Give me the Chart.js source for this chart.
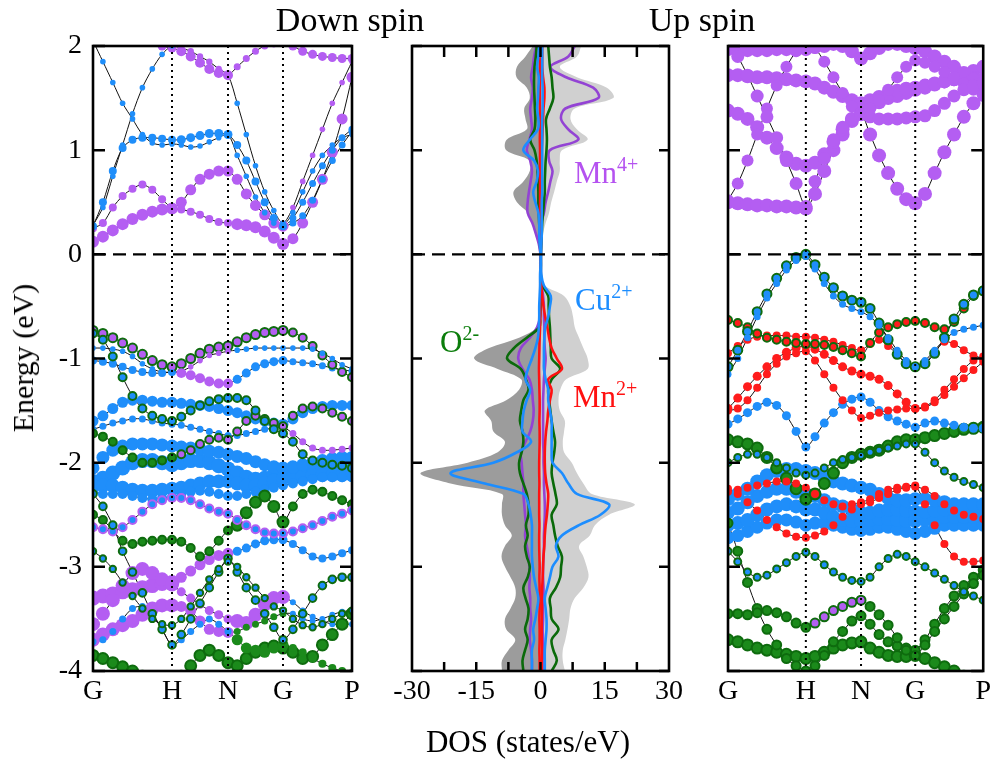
<!DOCTYPE html>
<html><head><meta charset="utf-8">
<script src="https://cdn.jsdelivr.net/npm/chart.js@4.4.1/dist/chart.umd.min.js"></script>
<style>
html,body{margin:0;padding:0;background:#fff;}
body{width:995px;height:762px;position:relative;overflow:hidden;font-family:"Liberation Serif","Times New Roman",serif;}
canvas{position:absolute;top:0;}
.t{position:absolute;white-space:nowrap;color:#000;line-height:1;z-index:5;}
.lab{position:absolute;white-space:nowrap;font-size:31px;line-height:31px;z-index:5;}
.lab sup{font-size:20px;position:relative;top:-12px;vertical-align:baseline;line-height:0;}
</style></head><body>
<canvas id="c1" width="372" height="762" style="left:0px"></canvas>
<canvas id="c2" width="310" height="762" style="left:380px"></canvas>
<canvas id="c3" width="305" height="762" style="left:690px"></canvas>
<div class="t" style="font-size:34px;left:350px;top:3px;transform:translateX(-50%)">Down spin</div>
<div class="t" style="font-size:34px;left:702px;top:3px;transform:translateX(-50%)">Up spin</div>
<div class="t" style="font-size:30px;left:23px;top:358px;transform:translate(-50%,-50%) rotate(-90deg)">Energy (eV)</div>
<div class="t" style="font-size:31px;left:528px;top:726px;transform:translateX(-50%)">DOS (states/eV)</div>
<div class="lab" style="left:574px;top:157px;color:#b552f0">Mn<sup>4+</sup></div>
<div class="lab" style="left:575px;top:284px;color:#1c8dff">Cu<sup>2+</sup></div>
<div class="lab" style="left:440px;top:326px;color:#0b7d0b">O<sup>2-</sup></div>
<div class="lab" style="left:573px;top:381px;color:#ff1111">Mn<sup>2+</sup></div>
<script>
// ---------- k-path (band panels) ----------
const kNodes = [0, 0.79, 1.35, 1.90, 2.59];
const kLabels = ['G', 'H', 'N', 'G', 'P'];
const kGrid = [0,0.099,0.198,0.296,0.395,0.494,0.593,0.691,0.79, 0.883,0.977,1.07,1.163,1.257,1.35, 1.442,1.533,1.625,1.717,1.808,1.90, 1.999,2.097,2.196,2.294,2.393,2.491,2.59];
const eTicks = [-4, -3, -2, -1, 0, 1, 2];

// ---------- Down spin bands (eV) ----------
const dnC1 = [0.12,0.17,0.23,0.29,0.34,0.38,0.41,0.43,0.44, 0.43,0.41,0.38,0.34,0.31,0.30, 0.29,0.28,0.26,0.22,0.16,0.10, 0.15,0.30,0.50,0.72,0.98,1.30,1.70];
const dnC2 = [0.25,0.30,0.45,0.56,0.63,0.67,0.62,0.53,0.45, 0.50,0.62,0.72,0.77,0.80,0.80, 0.72,0.58,0.47,0.38,0.30,0.27, 0.30,0.37,0.52,0.72,0.90,1.05,1.18];
const dnC3 = [0.27,0.50,0.80,1.02,1.10,1.12,1.12,1.11,1.10, 1.10,1.12,1.14,1.16,1.16,1.15, 1.05,0.90,0.70,0.50,0.35,0.27, 0.35,0.50,0.68,0.85,1.00,1.12,1.20];
const dnC4 = [2.05,1.85,1.65,1.45,1.30,1.15,1.07,1.05,1.06, 1.05,1.03,1.04,1.08,1.12,1.15, 0.95,0.75,0.55,0.40,0.30,0.28, 0.40,0.60,0.80,0.95,1.05,1.12,1.15];
const dnC5 = [0.28,0.45,0.75,1.05,1.35,1.60,1.78,1.92,2.00, 1.98,1.95,1.90,1.85,1.78,1.72, 1.45,1.15,0.85,0.60,0.42,0.30, 0.45,0.70,0.95,1.20,1.45,1.65,1.85];
const dnC6 = [2.60,2.50,2.40,2.30,2.20,2.10,2.05,2.00,1.98, 1.95,1.90,1.84,1.78,1.74,1.72, 1.80,1.88,1.95,2.00,2.02,2.05, 2.00,1.95,1.92,1.90,1.89,1.88,1.88];
const dnV1 = [-0.73,-0.76,-0.80,-0.85,-0.90,-0.96,-1.02,-1.06,-1.08, -1.05,-1.00,-0.95,-0.91,-0.89,-0.88, -0.84,-0.80,-0.77,-0.75,-0.74,-0.73, -0.75,-0.80,-0.88,-0.97,-1.06,-1.13,-1.18];
const dnV2 = [-0.90,-0.90,-0.91,-0.93,-0.98,-1.05,-1.10,-1.13,-1.13, -1.12,-1.08,-1.02,-0.97,-0.95,-0.93, -0.92,-0.91,-0.90,-0.90,-0.90,-0.90, -0.90,-0.90,-0.91,-0.95,-1.00,-1.06,-1.10];
const dnV3 = [-1.02,-1.03,-1.05,-1.08,-1.11,-1.13,-1.14,-1.14,-1.13, -1.14,-1.16,-1.19,-1.22,-1.24,-1.24, -1.20,-1.14,-1.08,-1.05,-1.03,-1.02, -1.03,-1.04,-1.05,-1.07,-1.09,-1.11,-1.12];
const dnV4 = [-0.76,-0.82,-0.98,-1.18,-1.36,-1.48,-1.55,-1.58,-1.60, -1.56,-1.50,-1.45,-1.41,-1.39,-1.38, -1.38,-1.40,-1.50,-1.60,-1.68,-1.72, -1.80,-1.92,-1.98,-2.00,-2.02,-2.03,-2.05];
const dnV5 = [-1.60,-1.55,-1.48,-1.42,-1.40,-1.40,-1.41,-1.42,-1.42, -1.43,-1.44,-1.45,-1.46,-1.48,-1.50, -1.52,-1.55,-1.58,-1.60,-1.62,-1.63, -1.58,-1.52,-1.48,-1.46,-1.45,-1.45,-1.45];
const dnV6 = [-1.68,-1.65,-1.62,-1.60,-1.58,-1.58,-1.60,-1.62,-1.63, -1.64,-1.66,-1.68,-1.70,-1.72,-1.74, -1.74,-1.72,-1.70,-1.68,-1.67,-1.66, -1.72,-1.80,-1.86,-1.88,-1.88,-1.87,-1.86];
const dnV7 = [-1.72,-1.75,-1.80,-1.88,-1.95,-2.00,-2.00,-1.98,-1.95, -1.92,-1.88,-1.82,-1.78,-1.76,-1.78, -1.70,-1.60,-1.55,-1.58,-1.62,-1.65, -1.55,-1.48,-1.46,-1.48,-1.52,-1.56,-1.60];
const dnB1 = [-2.05,-1.95,-1.88,-1.84,-1.82,-1.82,-1.82,-1.83,-1.84, -1.85,-1.86,-1.87,-1.89,-1.90,-1.92, -1.94,-1.96,-1.99,-2.02,-2.04,-2.05, -2.04,-2.02,-2.00,-1.98,-1.96,-1.95,-1.95];
const dnB2 = [-2.18,-2.15,-2.10,-2.05,-2.00,-1.98,-1.98,-2.00,-2.02, -2.00,-1.98,-1.98,-2.00,-2.03,-2.06, -2.10,-2.14,-2.16,-2.15,-2.12,-2.10, -2.10,-2.08,-2.06,-2.05,-2.04,-2.03,-2.02];
const dnB3 = [-2.22,-2.22,-2.22,-2.24,-2.26,-2.27,-2.27,-2.26,-2.25, -2.24,-2.22,-2.20,-2.18,-2.18,-2.18, -2.20,-2.22,-2.22,-2.20,-2.17,-2.15, -2.14,-2.13,-2.12,-2.12,-2.12,-2.12,-2.12];
const dnB4 = [-2.28,-2.30,-2.30,-2.30,-2.32,-2.34,-2.35,-2.34,-2.33, -2.30,-2.28,-2.27,-2.28,-2.30,-2.32, -2.32,-2.30,-2.28,-2.26,-2.24,-2.22, -2.20,-2.18,-2.16,-2.14,-2.14,-2.14,-2.14];
const dnL1 = [-2.62,-2.64,-2.66,-2.62,-2.55,-2.47,-2.40,-2.36,-2.34, -2.34,-2.36,-2.40,-2.44,-2.47,-2.49, -2.55,-2.60,-2.64,-2.67,-2.68,-2.68, -2.66,-2.63,-2.60,-2.56,-2.52,-2.49,-2.46];
const dnL2 = [-2.50,-2.55,-2.65,-2.75,-2.78,-2.76,-2.75,-2.74,-2.74, -2.76,-2.82,-2.90,-2.85,-2.75,-2.65, -2.60,-2.48,-2.38,-2.32,-2.42,-2.57, -2.42,-2.30,-2.26,-2.28,-2.32,-2.36,-2.40];
const dnL3 = [-3.30,-3.28,-3.26,-3.24,-3.22,-3.20,-3.18,-3.16,-3.15, -3.10,-3.04,-2.98,-2.93,-2.89,-2.87, -2.85,-2.82,-2.78,-2.75,-2.74,-2.74, -2.78,-2.84,-2.90,-2.92,-2.90,-2.87,-2.84];
const dnL4 = [-3.55,-3.45,-3.32,-3.18,-3.06,-3.02,-3.06,-3.12,-3.17, -3.24,-3.30,-3.36,-3.42,-3.46,-3.50, -3.52,-3.54,-3.46,-3.36,-3.30,-3.29, -3.34,-3.42,-3.48,-3.52,-3.55,-3.55,-3.55];
const dnL5 = [-3.70,-3.65,-3.60,-3.56,-3.52,-3.46,-3.40,-3.37,-3.37, -3.38,-3.42,-3.52,-3.60,-3.62,-3.63, -3.62,-3.58,-3.55,-3.52,-3.48,-3.45, -3.45,-3.50,-3.52,-3.50,-3.46,-3.43,-3.42];
const dnL6 = [-2.30,-2.42,-2.60,-2.85,-3.05,-3.25,-3.45,-3.60,-3.75, -3.65,-3.50,-3.35,-3.20,-3.05,-2.92, -3.05,-3.20,-3.32,-3.45,-3.58,-3.70, -3.60,-3.45,-3.30,-3.18,-3.12,-3.10,-3.10];
const dnL7 = [-3.72,-3.70,-3.62,-3.50,-3.40,-3.38,-3.45,-3.60,-3.75, -3.70,-3.62,-3.55,-3.50,-3.55,-3.62, -3.70,-3.78,-3.80,-3.82,-3.78,-3.75, -3.78,-3.82,-3.88,-3.93,-3.97,-4.00,-4.02];
const dnL8 = [-3.85,-3.88,-3.92,-3.96,-4.00,-4.05,-4.10,-4.10,-4.10, -4.05,-3.95,-3.85,-3.80,-3.85,-3.92, -3.95,-3.88,-3.82,-3.78,-3.76,-3.78, -3.82,-3.88,-3.86,-3.75,-3.65,-3.55,-3.45];
const dnL9 = [-2.85,-2.92,-3.02,-3.15,-3.28,-3.40,-3.50,-3.55,-3.56, -3.50,-3.38,-3.25,-3.12,-3.02,-2.95, -3.00,-3.10,-3.20,-3.30,-3.38,-3.42, -3.50,-3.56,-3.58,-3.55,-3.50,-3.45,-3.42];

// ---------- Up spin bands (eV) ----------
const upC1 = [0.50,0.49,0.48,0.47,0.47,0.46,0.46,0.45,0.44, 0.58,0.80,1.00,1.15,1.28,1.35, 1.15,0.95,0.78,0.63,0.53,0.49, 0.58,0.78,0.98,1.15,1.32,1.45,1.55];
const upC2 = [1.38,1.35,1.30,1.22,1.12,1.02,0.93,0.87,0.85, 0.88,0.96,1.08,1.20,1.30,1.37, 1.42,1.46,1.50,1.52,1.55,1.58, 1.60,1.63,1.66,1.68,1.72,1.76,1.80];
const upC3 = [1.72,1.72,1.71,1.70,1.70,1.69,1.68,1.67,1.66, 1.64,1.60,1.56,1.52,1.48,1.45, 1.48,1.51,1.54,1.57,1.59,1.60, 1.62,1.64,1.66,1.68,1.69,1.69,1.68];
const upC4 = [1.97,1.96,1.96,1.96,1.96,1.97,1.97,1.97,1.97, 1.99,2.00,2.02,2.00,1.95,1.88, 1.93,1.98,2.02,2.02,2.00,1.98, 1.95,1.90,1.85,1.80,1.74,1.68,1.62];
const upC5 = [2.05,1.90,1.72,1.52,1.32,1.12,0.90,0.68,0.46, 0.70,0.92,1.10,1.22,1.30,1.34, 1.32,1.30,1.30,1.30,1.31,1.32, 1.33,1.38,1.45,1.52,1.58,1.62,1.65];
const upC6 = [0.52,0.68,0.90,1.15,1.40,1.62,1.80,1.95,2.05, 1.98,1.85,1.70,1.55,1.42,1.36, 1.40,1.48,1.58,1.70,1.80,1.86, 1.84,1.80,1.75,1.70,1.64,1.58,1.52];
const upV1 = [-1.08,-0.92,-0.74,-0.55,-0.38,-0.23,-0.11,-0.03,0.00, -0.10,-0.22,-0.32,-0.40,-0.44,-0.46, -0.52,-0.66,-0.82,-0.96,-1.05,-1.08, -1.05,-0.95,-0.80,-0.62,-0.48,-0.39,-0.35];
const upV2 = [-1.15,-1.00,-0.80,-0.60,-0.42,-0.28,-0.15,-0.06,-0.02, -0.14,-0.28,-0.40,-0.48,-0.52,-0.55, -0.60,-0.68,-0.80,-0.92,-1.02,-1.08, -1.02,-0.92,-0.82,-0.75,-0.72,-0.70,-0.68];
const upV3 = [-0.63,-0.66,-0.70,-0.76,-0.80,-0.82,-0.84,-0.85,-0.86, -0.86,-0.87,-0.89,-0.92,-0.95,-0.98, -0.85,-0.75,-0.70,-0.67,-0.65,-0.64, -0.66,-0.70,-0.72,-0.65,-0.52,-0.40,-0.35];
const upV4 = [-0.95,-0.88,-0.82,-0.79,-0.78,-0.78,-0.78,-0.79,-0.79, -0.80,-0.82,-0.84,-0.87,-0.90,-0.92, -0.86,-0.82,-0.88,-0.96,-1.04,-1.08, -1.04,-0.94,-0.84,-0.86,-0.92,-0.97,-1.00];
const upV5 = [-1.48,-1.38,-1.27,-1.17,-1.08,-1.00,-0.94,-0.90,-0.88, -0.91,-0.96,-1.02,-1.08,-1.12,-1.15, -1.17,-1.20,-1.26,-1.34,-1.42,-1.48, -1.47,-1.42,-1.35,-1.27,-1.19,-1.11,-1.03];
const upV6 = [-1.50,-1.48,-1.40,-1.28,-1.15,-1.05,-0.98,-0.95,-0.93, -1.02,-1.15,-1.28,-1.40,-1.50,-1.57, -1.55,-1.52,-1.50,-1.49,-1.48,-1.48, -1.46,-1.40,-1.30,-1.20,-1.10,-1.02,-0.98];
const upV7 = [-1.63,-1.58,-1.52,-1.46,-1.42,-1.45,-1.55,-1.70,-1.85, -1.75,-1.62,-1.52,-1.44,-1.39,-1.37, -1.42,-1.50,-1.56,-1.60,-1.63,-1.66, -1.62,-1.60,-1.62,-1.64,-1.66,-1.67,-1.67];
const upV8 = [-1.78,-1.80,-1.82,-1.86,-1.95,-2.05,-2.15,-2.25,-2.35, -2.30,-2.20,-2.10,-2.00,-1.95,-1.92, -1.90,-1.88,-1.84,-1.80,-1.78,-1.78, -1.76,-1.74,-1.72,-1.70,-1.68,-1.67,-1.66];
const upV9 = [-2.00,-1.95,-1.92,-1.92,-1.95,-2.00,-2.05,-2.10,-2.12, -2.10,-2.05,-2.00,-1.97,-1.95,-1.93, -1.90,-1.88,-1.86,-1.84,-1.82,-1.82, -1.90,-2.00,-2.08,-2.14,-2.18,-2.21,-2.24];
const upB1 = [-2.35,-2.30,-2.25,-2.18,-2.12,-2.08,-2.06,-2.06,-2.08, -2.10,-2.14,-2.18,-2.20,-2.22,-2.24, -2.26,-2.30,-2.34,-2.36,-2.36,-2.35, -2.35,-2.36,-2.38,-2.40,-2.40,-2.40,-2.40];
const upB2 = [-2.48,-2.44,-2.38,-2.32,-2.28,-2.25,-2.25,-2.28,-2.30, -2.32,-2.36,-2.40,-2.42,-2.45,-2.48, -2.48,-2.46,-2.45,-2.45,-2.46,-2.47, -2.47,-2.46,-2.45,-2.45,-2.44,-2.44,-2.44];
const upB3 = [-2.60,-2.58,-2.55,-2.50,-2.45,-2.42,-2.40,-2.42,-2.45, -2.45,-2.48,-2.52,-2.55,-2.56,-2.56, -2.55,-2.54,-2.54,-2.55,-2.56,-2.56, -2.55,-2.54,-2.52,-2.52,-2.52,-2.52,-2.52];
const upB4 = [-2.72,-2.70,-2.66,-2.62,-2.58,-2.55,-2.55,-2.57,-2.60, -2.58,-2.58,-2.60,-2.62,-2.64,-2.65, -2.64,-2.62,-2.62,-2.64,-2.66,-2.68, -2.66,-2.63,-2.60,-2.60,-2.60,-2.60,-2.60];
const upR1 = [-2.25,-2.30,-2.38,-2.46,-2.55,-2.62,-2.68,-2.71,-2.72, -2.70,-2.66,-2.60,-2.52,-2.45,-2.40, -2.38,-2.34,-2.30,-2.26,-2.24,-2.23, -2.26,-2.32,-2.40,-2.46,-2.50,-2.52,-2.54];
const upR2 = [-2.28,-2.26,-2.24,-2.22,-2.20,-2.18,-2.18,-2.20,-2.24, -2.30,-2.36,-2.40,-2.42,-2.40,-2.38, -2.35,-2.30,-2.26,-2.24,-2.23,-2.22, -2.40,-2.60,-2.78,-2.90,-2.95,-2.95,-2.94];
const upG1 = [-3.45,-3.45,-3.46,-3.44,-3.42,-3.44,-3.48,-3.54,-3.58, -3.54,-3.48,-3.42,-3.38,-3.34,-3.32, -3.38,-3.46,-3.56,-3.68,-3.80,-3.85, -3.75,-3.62,-3.50,-3.38,-3.26,-3.16,-3.08];
const upG2 = [-2.58,-2.85,-3.15,-3.40,-3.60,-3.75,-3.88,-3.95,-4.00, -3.95,-3.85,-3.72,-3.62,-3.52,-3.47, -3.55,-3.65,-3.72,-3.76,-3.78,-3.80, -3.70,-3.55,-3.40,-3.28,-3.18,-3.10,-3.03];
const upG3 = [-3.70,-3.72,-3.75,-3.78,-3.80,-3.82,-3.84,-3.86,-3.88, -3.86,-3.82,-3.78,-3.75,-3.73,-3.72, -3.78,-3.82,-3.85,-3.86,-3.86,-3.85, -3.88,-3.92,-3.96,-4.00,-4.05,-4.10,-4.10];
const upG4 = [-2.85,-2.95,-3.05,-3.10,-3.08,-3.02,-2.96,-2.90,-2.86, -2.90,-2.98,-3.05,-3.10,-3.13,-3.14, -3.10,-3.00,-2.92,-2.88,-2.90,-2.95, -3.00,-3.06,-3.12,-3.18,-3.24,-3.28,-3.32];

// ---------- DOS (states/eV); down spin negative, up spin positive ----------
const dosE = [-4.0,-3.9,-3.8,-3.7,-3.6,-3.5,-3.4,-3.3,-3.2,-3.1, -3.0,-2.9,-2.8,-2.7,-2.6,-2.5,-2.4,-2.3,-2.2,-2.1, -2.0,-1.9,-1.8,-1.7,-1.6,-1.5,-1.4,-1.3,-1.2,-1.1, -1.0,-0.9,-0.8,-0.7,-0.6,-0.5,-0.4,-0.3,-0.2,-0.1, 0.0,0.1,0.2,0.3,0.4,0.5,0.6,0.7,0.8,0.9, 1.0,1.1,1.2,1.3,1.4,1.5,1.6,1.7,1.8,1.9, 2.0];
const totDn = [-9,-9,-7.5,-5.9,-8,-8.3,-7,-5.9,-5.9,-7, -8.3,-9.1,-8.3,-6.7,-8.3,-9,-9,-9,-21,-28, -17,-10,-8.3,-11,-11.5,-13,-8,-5,-4.5,-10, -15.5,-12,-5,-0.8,-0.3,-0.2,0,0,0,0, 0,-0.5,-1.3,-2,-3,-5.5,-6.3,-4,-2.5,-2.5, -8,-7.9,-3.2,-3.5,-3.8,-2.5,-3.2,-5.6,-5.5,-3.5, -1.8];
const totUp = [5.7,5.2,5.2,5.8,6.3,6.7,7,8,10,11.2, 10.8,10,9,11.5,12.7,16,22,12,10,8.5, 7.3,5.5,5.2,5.5,5.7,4.5,4.2,4.6,6,11, 11,10,9,8,7.6,7,5.5,1,0.3,0.2, 0.2,0.3,0.6,1.2,2,2.5,3.2,3.8,4.5,4.5, 5,11,8.5,7,8,17,15.5,8.5,4.5,8.5, 9.5];
const mn4Dn = [-2,-2,-2.2,-2.5,-2.4,-2.2,-2.4,-2.4,-2.6,-2.5, -2.6,-2.8,-3.2,-3.6,-3.4,-3.6,-3.8,-4,-4,-4.2, -4.4,-4.6,-3.5,-2.4,-1.8,-1.6,-1.8,-2,-2.6,-4.2, -5.2,-4.6,-2.5,-0.8,-0.1,0,0,0,0,0, 0,-0.4,-1.1,-1.9,-3,-3,-2.7,-2.3,-2,-2.4, -3.2,-2.6,-2,-2.2,-2.4,-2,-1.8,-2.2,-1.8,-1.5, -1];
const mn4Up = [0.5,0.5,0.6,0.6,0.5,0.6,0.6,0.7,0.7,0.6, 0.6,0.7,0.8,0.8,0.9,1,1,0.9,0.8,0.8, 0.7,0.7,0.6,0.6,0.6,0.6,0.6,0.7,0.8,1, 1.2,1,0.9,0.9,0.8,0.8,0.6,0.3,0.1,0.1, 0.1,0.1,0.15,0.2,0.8,1.2,1.8,2.3,2.8,2, 2.2,8.8,6.5,4.8,5.8,13.5,12.3,6,2.3,6.5, 8];
const oDn = [-4,-4.2,-3.6,-3,-3.6,-3,-2.8,-3.5,-4,-3, -2.5,-3.2,-3.6,-3,-3.4,-2.8,-2.8,-3.2,-4,-4.8, -5,-4.4,-4,-4.2,-4.8,-4.5,-4,-2.8,-3.4,-4.6, -7.8,-6.2,-3.2,-0.3,-0.1,0,0,0,0,0, 0,-0.1,-0.2,-0.3,-0.4,-0.5,-0.5,-0.6,-0.7,-0.9, -1.4,-2.4,-1.4,-1.2,-1.3,-1.4,-1.5,-1.5,-1.4,-1.1, -0.9];
const oUp = [2.6,3.8,3,2.6,4.2,2.6,2.4,2.2,3.6,4.6, 4.8,5,4,3.4,3,2.6,3.8,3.5,3,2.6, 2.8,3.2,3.4,3,2.6,2.3,2,1.8,2.6,4.6, 2.6,2.4,2.3,2.2,2,1.9,1.8,0.5,0.1,0.1, 0.1,0.2,0.3,0.4,0.6,0.8,1,1,1.1,1.2, 1.4,1.5,1.4,1.3,2.2,3,2.8,2.6,2.2,2, 1.8];
const cuDn = [-2,-2,-2,-1.5,-1.7,-1.2,-0.8,-0.5,-1,-1.5, -1.8,-2,-2,-2,-2,-2.3,-2.8,-4,-13,-21, -11,-5.5,-2.2,-4.2,-4.2,-3.9,-3.2,-2.4,-3.5,-2.9, -2,-1.2,-0.6,-0.4,-0.3,-0.3,-0.2,-0.1,-0.1,0, 0,-0.2,-0.3,-0.3,-0.5,-1.2,-1.7,-0.9,-0.6,-1.5, -4,-2.5,-0.6,-0.5,-0.8,-0.6,-0.5,-0.4,-0.8,-0.5, -0.3];
const cuUp = [1,1,1,1.2,1.4,1.4,1.2,1,1.6,2.2, 2.8,4.2,3.6,5,9,14,16,8.5,6.5,5, 2.8,2.6,2.6,2.6,2.6,2.2,1.8,1.8,1.2,0.8, 0.8,0.8,0.9,1.1,1.8,2.2,2.4,0.8,0.2,0.1, 0.1,0.2,0.3,0.3,0.3,0.3,0.4,0.4,0.4,0.4, 0.4,0.4,0.4,0.4,0.5,0.5,0.5,0.4,0.4,0.4, 0.4];
const mn2Dn = [-0.2,-0.2,-0.25,-0.2,-0.2,-0.25,-0.2,-0.2,-0.2,-0.25, -0.2,-0.25,-0.3,-0.3,-0.25,-0.3,-0.3,-0.3,-0.25,-0.3, -0.3,-0.25,-0.2,-0.2,-0.25,-0.2,-0.2,-0.25,-0.3,-0.35, -0.3,-0.25,-0.2,-0.1,-0.05,-0.05,-0.05,-0.05,-0.05,-0.05, -0.05,-0.1,-0.1,-0.1,-0.1,-0.1,-0.1,-0.1,-0.1,-0.1, -0.1,-0.15,-0.1,-0.1,-0.1,-0.15,-0.15,-0.1,-0.1,-0.1, -0.1];
const mn2Up = [0.3,0.3,0.35,0.3,0.3,0.3,0.35,0.3,0.4,0.5, 0.6,0.7,0.9,1,1.2,1.5,1.7,1.8,1.4,1.1, 1,1,1.1,1.3,1.6,1.8,2.2,2.6,1.8,5, 3.8,2.6,2,1.6,1.1,0.7,0.4,0.2,0.05,0.05, 0.05,0.1,0.15,0.2,0.2,0.2,0.25,0.3,0.3,0.3, 0.3,0.4,0.5,0.6,0.7,0.9,0.9,0.6,0.4,0.4, 0.4];
const dosTicks = [-30, -15, 0, 15, 30];
const dosMinor = [-22.5, -15, -7.5, 0, 7.5, 15, 22.5];

// ---------- styles ----------
const COL = {p:'#b45ef2', b:'#1f8efa', g:'#1b8a1b', r:'#ff1c1c'};
const RING = {g:'#0e6b0e', p:'#b45ef2'};
const dnList = [
  {b:dnV2, c:['b','p','b','b'], r:2.8},
  {b:dnC4, c:'b', r:2.8},
  {b:dnC5, c:['b','p','b','p'], r:[2.8,3.2,2.8,2.8]},
  {b:dnL9, c:'b', ring:'g', r:3.2},
  {b:dnL6, c:'b', ring:'g', r:3.8},
  {b:dnL1, c:'b', ring:'p', r:4},
  {b:dnL2, c:'g', ring:'g', r:[4,4,5.5,4]},
  {b:dnV4, c:'b', ring:'g', r:4},
  {b:dnV7, c:['g','p','p','p'], ring:'g', r:4},
  {b:dnV1, c:'p', ring:'g', r:[4.5,4.5,4.5,4]},
  {b:dnV6, c:['b','b','b','p'], r:3.5},
  {b:dnV3, c:['b','p','b','b'], r:[4,5,4.5,3.5]},
  {b:dnC3, c:'b', r:[4,4.5,4,3.5]},
  {b:dnC2, c:['p','p','p','b'], r:[4,5.5,5.5,3.5]},
  {b:dnC1, c:'p', r:[6,4,6,5.5]},
  {b:dnC6, c:'p', r:[4.5,5,3.5,4.5]},
  {b:dnL7, c:['b','b','g','g'], r:[3.5,3.5,5.5,4]},
  {b:dnL8, c:'g', ring:'g', r:5.5},
  {b:dnL5, c:['p','p','g','b'], r:[7,5.5,3.5,3]},
  {b:dnL4, c:['p','p','p','b'], r:[7,4.5,7,3]},
  {b:dnL3, c:['p','p','b','b'], r:[7.5,5.5,4.5,4]},
  {b:dnB4, c:'b', r:5},
  {b:dnV5, c:'b', r:5.5},
  {b:dnB1, c:'b', r:6.5},
  {b:dnB3, c:'b', r:7},
  {b:dnB2, c:'b', r:7.5}
];
const upList = [
  {b:upR1, c:'r', r:4},
  {b:upR2, c:'r', r:4},
  {b:upV2, c:'b', r:3.5},
  {b:upV1, c:'b', ring:'g', r:4.5},
  {b:upV3, c:'r', ring:'g', r:4},
  {b:upV4, c:'r', r:4},
  {b:upV5, c:'r', r:[4.5,4.5,4.5,4]},
  {b:upV6, c:'r', r:4},
  {b:upV9, c:'b', ring:'g', r:3.5},
  {b:upG4, c:'b', ring:'g', r:3.5},
  {b:upG1, c:['g','p','g','g'], ring:'g', r:4.5},
  {b:upG2, c:'g', ring:'g', r:4.5},
  {b:upG3, c:'g', ring:'g', r:5.5},
  {b:upV7, c:'b', r:4.5},
  {b:upV8, c:'g', ring:'g', r:5.5},
  {b:upB1, c:'b', r:7},
  {b:upB2, c:'b', r:7},
  {b:upB3, c:'b', r:7},
  {b:upB4, c:'b', r:6.5},
  {b:upC5, c:'p', r:6.5},
  {b:upC6, c:'p', r:6},
  {b:upC4, c:'p', r:7},
  {b:upC3, c:'p', r:7},
  {b:upC2, c:'p', r:7},
  {b:upC1, c:'p', r:7}
];

Chart.defaults.font.family = '"Liberation Serif","Times New Roman",serif';
Chart.defaults.color = '#000';

function segOf(i){ return i <= 8 ? 0 : (i <= 14 ? 1 : (i <= 20 ? 2 : 3)); }
function pick(v, i){ return Array.isArray(v) ? v[segOf(i)] : v; }
function bandSets(list){
  const pts = [], lines = [];
  list.forEach(s => {
    const data = kGrid.map((k, i) => ({x: k, y: s.b[i]}));
    pts.push({data, showLine:false, pointRadius:data.map((_, i) => pick(s.r, i)),
      pointBackgroundColor:data.map((_, i) => COL[pick(s.c, i)]),
      pointBorderColor:s.ring ? RING[s.ring] : 'rgba(0,0,0,0)', pointBorderWidth:s.ring ? 2 : 0, order:1});
    lines.push({data, borderColor:'#111', borderWidth:1, pointRadius:0, tension:0.3, fill:false, order:2});
  });
  return pts.concat(lines);
}

const framePlugin = {
  id:'frame',
  afterDatasetsDraw(chart, args, o){
    const {ctx, chartArea:a} = chart;
    const xs = chart.scales.x, ys = chart.scales.y;
    ctx.save();
    ctx.strokeStyle = '#000';
    if (o.kLines){
      ctx.lineWidth = 2; ctx.setLineDash([2, 4]);
      o.kLines.forEach(k => { const px = xs.getPixelForValue(k); ctx.beginPath(); ctx.moveTo(px, a.top); ctx.lineTo(px, a.bottom); ctx.stroke(); });
    }
    ctx.lineWidth = 2.2; ctx.setLineDash([13, 7]);
    const p0 = ys.getPixelForValue(0);
    ctx.beginPath(); ctx.moveTo(a.left, p0); ctx.lineTo(a.right, p0); ctx.stroke();
    ctx.setLineDash([]);
    ctx.lineWidth = 2.5;
    (o.yTicks || []).forEach(v => { const py = ys.getPixelForValue(v); ctx.beginPath(); ctx.moveTo(a.left, py); ctx.lineTo(a.left + o.tl, py); ctx.moveTo(a.right, py); ctx.lineTo(a.right - o.tl, py); ctx.stroke(); });
    (o.xTicks || []).forEach(v => { const px = xs.getPixelForValue(v); ctx.beginPath(); ctx.moveTo(px, a.bottom); ctx.lineTo(px, a.bottom - o.xtl); ctx.moveTo(px, a.top); ctx.lineTo(px, a.top + o.xtl + 2); ctx.stroke(); });
    ctx.lineWidth = 2.6;
    ctx.strokeRect(a.left, a.top, a.right - a.left, a.bottom - a.top);
    ctx.restore();
  }
};

function bandChart(id, list, showY, pad){
  return new Chart(document.getElementById(id), {
    type:'line',
    data:{datasets:bandSets(list)},
    options:{
      responsive:false, animation:false, events:[],
      layout:{padding:pad},
      plugins:{legend:{display:false}, tooltip:{enabled:false}, frame:{kLines:kNodes.slice(1, 4), yTicks:eTicks, tl:12}},
      scales:{
        x:{type:'linear', min:0, max:2.59,
          afterBuildTicks:s => { s.ticks = kNodes.map(v => ({value:v})); },
          afterFit:s => { s.height = 91; },
          grid:{display:false, drawTicks:false}, border:{display:false},
          ticks:{autoSkip:false, maxRotation:0, padding:4, color:'#000', font:{size:28}, callback:(v, i) => kLabels[i]}},
        y:{type:'linear', min:-4, max:2, display:showY,
          afterFit:s => { s.width = showY ? 93 : 0; },
          grid:{display:false, drawTicks:false}, border:{display:false},
          ticks:{stepSize:1, padding:11, color:'#000', font:{size:28}}}
      }
    },
    plugins:[framePlugin]
  });
}

bandChart('c1', dnList, true, {top:46, right:20, left:0, bottom:0});
bandChart('c3', upList, false, {top:46, right:8, left:38, bottom:0});

const mk = arr => dosE.map((e, i) => ({x:arr[i], y:e}));
const ln = (arr, color, order) => ({data:mk(arr), borderColor:color, borderWidth:2.6, pointRadius:0, fill:false, tension:0.35, order});
new Chart(document.getElementById('c2'), {
  type:'line',
  data:{datasets:[
    {data:mk(totDn), fill:'origin', backgroundColor:'#9c9c9c', borderWidth:0, borderColor:'rgba(0,0,0,0)', pointRadius:0, tension:0.35, order:6},
    {data:mk(totUp), fill:'origin', backgroundColor:'#d0d0d0', borderWidth:0, borderColor:'rgba(0,0,0,0)', pointRadius:0, tension:0.35, order:5},
    ln(mn4Dn, '#9343d4', 4), ln(mn4Up, '#9343d4', 4),
    ln(oDn, '#0a6a0a', 3), ln(oUp, '#0a6a0a', 3),
    ln(mn2Dn, '#ff1111', 2), ln(mn2Up, '#ff1111', 2),
    ln(cuDn, '#1c8dff', 1), ln(cuUp, '#1c8dff', 1)
  ]},
  options:{
    indexAxis:'y',
    responsive:false, animation:false, events:[],
    layout:{padding:{top:46, right:21, left:32, bottom:0}},
    plugins:{legend:{display:false}, tooltip:{enabled:false}, frame:{yTicks:eTicks, tl:10, xTicks:dosMinor, xtl:9}},
    scales:{
      x:{type:'linear', min:-30, max:30,
        afterBuildTicks:s => { s.ticks = dosTicks.map(v => ({value:v})); },
        afterFit:s => { s.height = 91; },
        grid:{display:false, drawTicks:false}, border:{display:false},
        ticks:{autoSkip:false, maxRotation:0, padding:4, color:'#000', font:{size:28}}},
      y:{type:'linear', min:-4, max:2, display:false, afterFit:s => { s.width = 0; }}
    }
  },
  plugins:[framePlugin]
});
</script>
</body></html>
